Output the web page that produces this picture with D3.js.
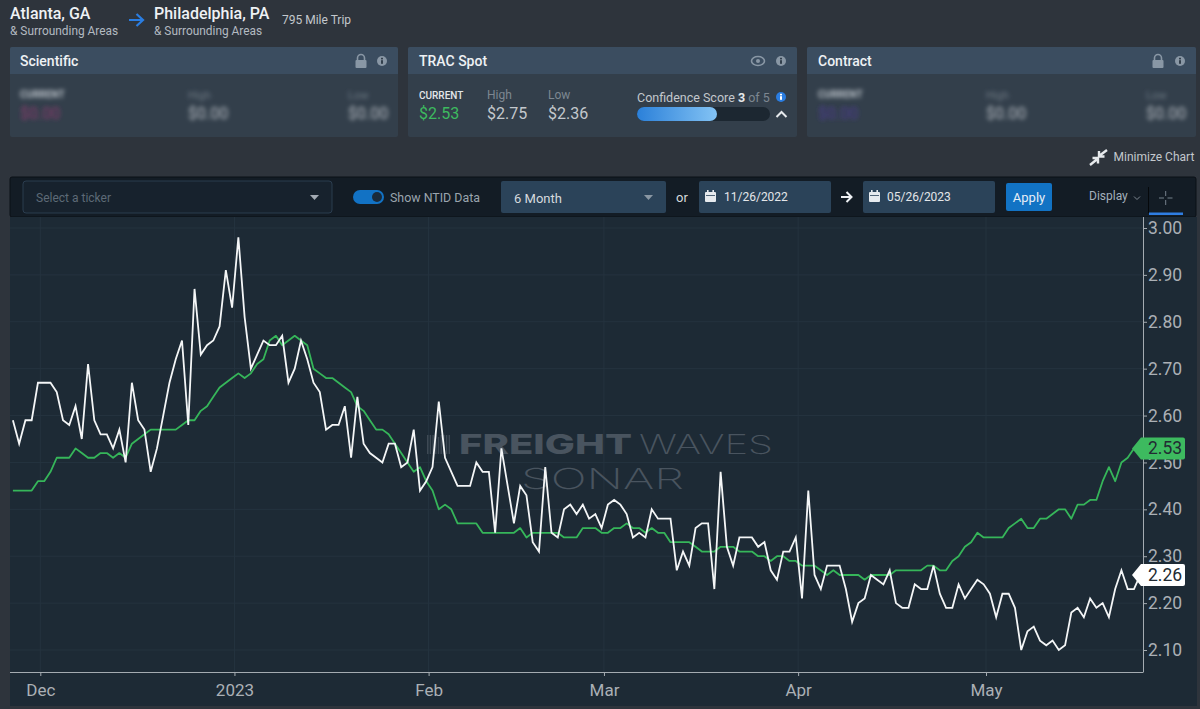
<!DOCTYPE html>
<html>
<head>
<meta charset="utf-8">
<script src="https://cdn.jsdelivr.net/npm/d3@7"></script>
<style>
  html, body { margin: 0; padding: 0; background: #2e343c; overflow: hidden; }
  svg { display: block; font-family: Roboto, sans-serif; }
  .y-axis text, .x-axis text { font-family: Roboto, sans-serif; }
</style>
</head>
<body>
<div id="root"></div>
<script>
// values, one per day
const firstDay = '2022-11-26T15:00:00Z';
const spotValues = [
  2.59,2.54,2.59,2.59,2.67,2.67,2.67,2.65,2.59,2.58,
  2.62,2.55,2.71,2.59,2.56,2.56,2.53,2.57,2.50,2.67,
  2.59,2.57,2.48,2.53,2.60,2.67,2.72,2.76,2.58,2.87,
  2.73,2.75,2.76,2.79,2.91,2.83,2.98,2.81,2.70,2.73,
  2.76,2.75,2.75,2.77,2.67,2.70,2.76,2.72,2.67,2.65,
  2.57,2.58,2.58,2.62,2.51,2.64,2.54,2.52,2.51,2.50,
  2.54,2.54,2.49,2.50,2.57,2.44,2.46,2.49,2.63,2.51,
  2.48,2.45,2.45,2.45,2.50,2.48,2.48,2.35,2.53,2.45,
  2.37,2.45,2.43,2.33,2.31,2.49,2.35,2.34,2.40,2.41,
  2.39,2.41,2.38,2.39,2.36,2.41,2.42,2.41,2.39,2.34,
  2.35,2.34,2.40,2.38,2.38,2.38,2.27,2.31,2.28,2.36,
  2.37,2.37,2.23,2.48,2.32,2.28,2.34,2.34,2.34,2.32,
  2.33,2.27,2.25,2.31,2.31,2.34,2.21,2.44,2.26,2.23,
  2.28,2.28,2.28,2.23,2.16,2.20,2.21,2.26,2.25,2.24,
  2.27,2.20,2.19,2.19,2.24,2.23,2.23,2.28,2.22,2.19,
  2.19,2.24,2.21,2.23,2.25,2.24,2.22,2.17,2.22,2.22,
  2.19,2.10,2.14,2.15,2.12,2.11,2.12,2.10,2.11,2.18,
  2.19,2.17,2.21,2.19,2.20,2.17,2.23,2.27,2.23,2.23,2.26
];
const tracValues = [
  2.44,2.44,2.44,2.44,2.46,2.46,2.48,2.51,2.51,2.51,
  2.53,2.52,2.51,2.51,2.52,2.52,2.51,2.52,2.51,2.54,
  2.55,2.56,2.57,2.57,2.57,2.57,2.57,2.58,2.59,2.59,
  2.61,2.62,2.64,2.66,2.67,2.68,2.69,2.68,2.69,2.71,
  2.72,2.76,2.77,2.75,2.76,2.77,2.76,2.75,2.70,2.69,
  2.68,2.68,2.67,2.66,2.65,2.62,2.61,2.59,2.57,2.57,
  2.56,2.54,2.52,2.50,2.48,2.49,2.46,2.44,2.40,2.41,
  2.40,2.37,2.37,2.37,2.37,2.35,2.35,2.35,2.35,2.35,
  2.35,2.36,2.34,2.35,2.35,2.35,2.35,2.35,2.34,2.34,
  2.34,2.36,2.36,2.36,2.35,2.35,2.36,2.36,2.37,2.36,
  2.36,2.35,2.36,2.35,2.35,2.33,2.33,2.33,2.33,2.32,
  2.31,2.31,2.31,2.32,2.32,2.32,2.31,2.31,2.31,2.30,
  2.30,2.29,2.30,2.30,2.29,2.29,2.28,2.28,2.28,2.27,
  2.26,2.27,2.26,2.26,2.26,2.26,2.25,2.26,2.26,2.26,
  2.26,2.27,2.27,2.27,2.27,2.27,2.28,2.28,2.27,2.27,
  2.29,2.30,2.32,2.33,2.35,2.34,2.34,2.34,2.34,2.36,
  2.37,2.38,2.36,2.36,2.38,2.38,2.39,2.40,2.40,2.38,
  2.41,2.41,2.42,2.42,2.46,2.49,2.46,2.50,2.51,2.53,2.53
];
const monthTicks = ['2022-12-01','2023-01-01','2023-02-01','2023-03-01','2023-04-01','2023-05-01'];
const monthLabels = ['Dec','2023','Feb','Mar','Apr','May'];
const priceTicks = [2.10,2.20,2.30,2.40,2.50,2.60,2.70,2.80,2.90,3.00];

const width = 1200;
const height = 709;
const axisRight = 1143;
const axisBottom = 672;
const chartLeft = 10;
const chartTop = 217;

const svg = d3.select('#root').append('svg')
  .attr('width', width)
  .attr('height', height)
  .attr('viewBox', [0, 0, width, height]);

const blur = svg.append('defs').append('filter').attr('id', 'blur')
  .attr('x', '-20%').attr('y', '-60%').attr('width', '140%').attr('height', '220%');
blur.append('feGaussianBlur').attr('stdDeviation', 2.2);

const grad = svg.select('defs').append('linearGradient').attr('id', 'score');
grad.append('stop').attr('offset', '0%').attr('stop-color', '#2b80d9');
grad.append('stop').attr('offset', '100%').attr('stop-color', '#83c3f4');

function label(g, x, y, str, size, color, weight) {
  return g.append('text')
    .attr('x', x).attr('y', y)
    .attr('dominant-baseline', 'central')
    .attr('font-size', size)
    .attr('font-weight', weight || 400)
    .attr('fill', color)
    .text(str);
}

function infoIcon(g, x, y, color) {
  g.append('circle').attr('cx', x).attr('cy', y).attr('r', 5).attr('fill', color);
  const ink = color === '#2a7de1' ? '#fff' : '#323f4c';
  g.append('rect').attr('x', x - 1).attr('y', y - 0.8).attr('width', 2).attr('height', 3.6).attr('fill', ink);
  g.append('rect').attr('x', x - 1).attr('y', y - 3.2).attr('width', 2).attr('height', 1.6).attr('fill', ink);
}

function lockIcon(g, x, y) {
  g.append('rect').attr('x', x - 5.5).attr('y', y - 1).attr('width', 11).attr('height', 8).attr('rx', 1).attr('fill', '#8997a5');
  g.append('path').attr('d', `M${x - 3.5},${y} v-3 a3.5,3.5 0 0 1 7,0 v3`)
    .attr('fill', 'none').attr('stroke', '#8997a5').attr('stroke-width', 1.6);
}

function card(x, w, title, textX) {
  const g = svg.append('g');
  g.append('rect').attr('x', x).attr('y', 47).attr('width', w).attr('height', 90).attr('rx', 2).attr('fill', '#333f4b');
  g.append('path').attr('d', `M${x},74 V49 a2,2 0 0 1 2,-2 H${x + w - 2} a2,2 0 0 1 2,2 V74 Z`).attr('fill', '#3b4d60');
  label(g, textX, 61, title, 14, '#eef1f4', 500);
  return g;
}

function blurredStats(g, x, xHigh, xLow, color) {
  const b = g.append('g').attr('filter', 'url(#blur)');
  label(b, x, 94, 'CURRENT', 10, '#b9c0c7', 700);
  label(b, x, 113, '$0.00', 16, color);
  label(b, xHigh, 95, 'High', 11, '#6d7883');
  label(b, xHigh, 113, '$0.00', 16, '#b4bac0');
  label(b, xLow, 95, 'Low', 11, '#6d7883');
  label(b, xLow, 113, '$0.00', 16, '#b4bac0');
}

function calendar(g, x, y) {
  g.append('rect').attr('x', x).attr('y', y + 2).attr('width', 11).attr('height', 10).attr('rx', 1).attr('fill', '#e6eaee');
  g.append('rect').attr('x', x + 1).attr('y', y + 5).attr('width', 9).attr('height', 0.8).attr('fill', '#2b4359');
  g.append('rect').attr('x', x + 2).attr('y', y).attr('width', 1.6).attr('height', 3).attr('fill', '#e6eaee');
  g.append('rect').attr('x', x + 7.4).attr('y', y).attr('width', 1.6).attr('height', 3).attr('fill', '#e6eaee');
}

// ---------------------------------------------------------------- header
const header = svg.append('g');
label(header, 10, 13, 'Atlanta, GA', 16, '#eef1f4', 500);
label(header, 10, 31, '& Surrounding Areas', 11.9, '#b3bac1');
header.append('path').attr('d', 'M129,20 H142 M136.5,14 L143,20 L136.5,26')
  .attr('fill', 'none').attr('stroke', '#2a7de1').attr('stroke-width', 2.2);
label(header, 154, 13, 'Philadelphia, PA', 16, '#eef1f4', 500);
label(header, 154, 31, '& Surrounding Areas', 11.9, '#b3bac1');
label(header, 282, 20, '795 Mile Trip', 12, '#c3c8cd');

const sci = card(10, 388, 'Scientific', 20);
lockIcon(sci, 361, 61);
infoIcon(sci, 382, 61, '#8997a5');
blurredStats(sci, 20, 188, 348, '#8b3a6e');

const trac = card(408, 389, 'TRAC Spot', 419);
trac.append('ellipse').attr('cx', 758).attr('cy', 61).attr('rx', 6.5).attr('ry', 4.5)
  .attr('fill', 'none').attr('stroke', '#8997a5').attr('stroke-width', 1.6);
trac.append('circle').attr('cx', 758).attr('cy', 61).attr('r', 2).attr('fill', '#8997a5');
infoIcon(trac, 781, 61, '#8997a5');
label(trac, 419, 95, 'CURRENT', 10, '#e3e6e9', 500);
label(trac, 419, 113, '$2.53', 16, '#3dba5f');
label(trac, 487, 95, 'High', 12, '#7d8791');
label(trac, 487, 113, '$2.75', 16, '#c3c8cd');
label(trac, 548, 95, 'Low', 12, '#7d8791');
label(trac, 548, 113, '$2.36', 16, '#c3c8cd');
const conf = label(trac, 637, 97, 'Confidence Score ', 12.5, '#c3c8cd');
conf.append('tspan').attr('font-weight', 700).attr('fill', '#e6e9ec').text('3');
conf.append('tspan').attr('fill', '#7d8791').text(' of 5');
infoIcon(trac, 781, 97, '#2a7de1');
trac.append('rect').attr('x', 637).attr('y', 107).attr('width', 133).attr('height', 14).attr('rx', 7).attr('fill', '#1c2731');
trac.append('rect').attr('x', 637).attr('y', 107).attr('width', 80).attr('height', 14).attr('rx', 7).attr('fill', 'url(#score)');
trac.append('path').attr('d', 'M776.5,117 L781.5,112 L786.5,117')
  .attr('fill', 'none').attr('stroke', '#e6e9ec').attr('stroke-width', 2);

const con = card(807, 389, 'Contract', 818);
lockIcon(con, 1158, 61);
infoIcon(con, 1180, 61, '#8997a5');
blurredStats(con, 818, 986, 1146, '#4b3a92');

const mini = svg.append('g');
mini.append('path').attr('d', 'M1107,150 L1099,156 M1099,151 V156.5 H1104.5 M1090,165 L1098,158.5 M1092.5,158 H1098 V163.5')
  .attr('fill', 'none').attr('stroke', '#e6e9ec').attr('stroke-width', 2.4);
label(mini, 1113.5, 157, 'Minimize Chart', 12, '#c3c8cd');

// ---------------------------------------------------------------- toolbar
const bar = svg.append('g');
bar.append('rect').attr('x', chartLeft).attr('y', 177).attr('width', 1186).attr('height', 40)
  .attr('rx', 2).attr('fill', '#131c25').attr('stroke', '#0b1016');
bar.append('rect').attr('x', 23).attr('y', 181).attr('width', 309).attr('height', 32).attr('rx', 3)
  .attr('fill', '#17222d').attr('stroke', '#2b3d4f');
label(bar, 36, 198, 'Select a ticker', 12, '#5d6a76');
bar.append('path').attr('d', 'M310,195 h9 l-4.5,5 Z').attr('fill', '#a3abb3');
bar.append('rect').attr('x', 353).attr('y', 190).attr('width', 31).attr('height', 14).attr('rx', 7).attr('fill', '#1272c4');
bar.append('circle').attr('cx', 377).attr('cy', 197).attr('r', 5).attr('fill', '#1a2a3a');
label(bar, 390, 197, 'Show NTID Data', 12.4, '#9aa4ae');
bar.append('rect').attr('x', 501).attr('y', 181).attr('width', 165).attr('height', 32).attr('rx', 2).attr('fill', '#2b4359');
label(bar, 514, 198, '6 Month', 13, '#d5dade');
bar.append('path').attr('d', 'M644,195 h9 l-4.5,5 Z').attr('fill', '#8a97a3');
label(bar, 676, 197, 'or', 13, '#d5dade');
bar.append('rect').attr('x', 699).attr('y', 181).attr('width', 132).attr('height', 32).attr('rx', 2).attr('fill', '#2b4359');
calendar(bar, 705, 190);
label(bar, 724, 197, '11/26/2022', 12, '#e3e6e9');
bar.append('path').attr('d', 'M841,197 H851 M846.5,192 L851.5,197 L846.5,202')
  .attr('fill', 'none').attr('stroke', '#eef1f4').attr('stroke-width', 2);
bar.append('rect').attr('x', 863).attr('y', 181).attr('width', 132).attr('height', 32).attr('rx', 2).attr('fill', '#2b4359');
calendar(bar, 869, 190);
label(bar, 887, 197, '05/26/2023', 12, '#e3e6e9');
bar.append('rect').attr('x', 1006).attr('y', 183).attr('width', 46).attr('height', 28).attr('rx', 2).attr('fill', '#1273c4');
label(bar, 1029, 197, 'Apply', 13, '#e6eef6').attr('text-anchor', 'middle');
label(bar, 1089, 196, 'Display', 12, '#a3b0bc');
bar.append('path').attr('d', 'M1134,196.5 L1137,199.5 L1140,196.5').attr('fill', 'none').attr('stroke', '#7d8791');
bar.append('line').attr('x1', 1148.5).attr('x2', 1148.5).attr('y1', 187).attr('y2', 213).attr('stroke', '#05080b');
bar.append('path').attr('d', 'M1159,198 H1164 M1167.5,198 H1172.5 M1165.7,191 V196 M1165.7,200 V205')
  .attr('stroke', '#75818c').attr('fill', 'none');
bar.append('rect').attr('x', 1149).attr('y', 212.5).attr('width', 34).attr('height', 2.5).attr('fill', '#2f7de1');

// ---------------------------------------------------------------- chart
svg.append('rect')
  .attr('x', chartLeft).attr('y', chartTop)
  .attr('width', 1187).attr('height', 489)
  .attr('fill', '#1d2a35');

const xScale = d3.scaleUtc()
  .domain([new Date('2022-12-01T00:00:00Z'), new Date('2023-05-01T00:00:00Z')])
  .range([40.3, 986]);
const yScale = d3.scaleLinear()
  .domain([2.10, 3.00])
  .range([650, 228]);

const tickDates = monthTicks.map((d) => new Date(d + 'T00:00:00Z'));
const start = new Date(firstDay);
const dayAt = (i) => d3.utcDay.offset(start, i);

// grid
svg.append('g').selectAll('line')
  .data(tickDates)
  .enter()
  .append('line')
  .attr('x1', (d) => xScale(d)).attr('x2', (d) => xScale(d))
  .attr('y1', chartTop).attr('y2', axisBottom)
  .attr('stroke', '#25333f');
svg.append('g').selectAll('line')
  .data(priceTicks)
  .enter()
  .append('line')
  .attr('x1', chartLeft).attr('x2', axisRight)
  .attr('y1', (d) => yScale(d)).attr('y2', (d) => yScale(d))
  .attr('stroke', '#25333f');

// watermark
const mark = svg.append('g').attr('fill', '#49545f');
mark.selectAll('rect')
  .data(d3.range(9))
  .enter()
  .append('rect')
  .attr('x', (d) => 427 + d * 2.7)
  .attr('y', (d) => (d === 4 ? 437 : 435))
  .attr('width', 1.4)
  .attr('height', (d) => (d === 4 ? 17 : 19))
  .attr('opacity', 0.75);
mark.append('text').attr('x', 459).attr('y', 454)
  .attr('font-family', 'Inter, Roboto, sans-serif').attr('font-size', 26.5).attr('font-weight', 800)
  .attr('textLength', 173).attr('lengthAdjust', 'spacingAndGlyphs').text('FREIGHT');
mark.append('text').attr('x', 639).attr('y', 454)
  .attr('font-family', 'Inter, Roboto, sans-serif').attr('font-size', 26.5).attr('font-weight', 200)
  .attr('textLength', 134).attr('lengthAdjust', 'spacingAndGlyphs').text('WAVES');
mark.append('text').attr('x', 521).attr('y', 489)
  .attr('font-family', 'Inter, Roboto, sans-serif').attr('font-size', 29).attr('font-weight', 200)
  .attr('textLength', 163).attr('lengthAdjust', 'spacingAndGlyphs').text('SONAR');

// lines
const line = d3.line()
  .x((d, i) => xScale(dayAt(i)))
  .y((d) => yScale(d));

svg.append('path')
  .datum(tracValues)
  .attr('fill', 'none')
  .attr('stroke', '#36b65a')
  .attr('stroke-width', 1.8)
  .attr('stroke-linejoin', 'round')
  .attr('d', line);
svg.append('path')
  .datum(spotValues)
  .attr('fill', 'none')
  .attr('stroke', '#f4f6f7')
  .attr('stroke-width', 1.8)
  .attr('stroke-linejoin', 'miter')
  .attr('d', line);

// axes
const xAxis = d3.axisBottom(xScale)
  .tickValues(tickDates)
  .tickFormat((d, i) => monthLabels[i])
  .tickSizeInner(4).tickSizeOuter(0).tickPadding(8);
const xAxisG = svg.append('g')
  .attr('class', 'x-axis')
  .attr('transform', `translate(0, ${axisBottom})`)
  .call(xAxis);
xAxisG.select('.domain').remove();
xAxisG.selectAll('line').attr('stroke', '#a4abb1');
xAxisG.selectAll('text').attr('fill', '#abb0b5').attr('font-size', 17);
svg.append('line')
  .attr('x1', chartLeft).attr('x2', axisRight)
  .attr('y1', axisBottom + 0.5).attr('y2', axisBottom + 0.5)
  .attr('stroke', '#a4abb1');

const yAxis = d3.axisRight(yScale)
  .tickValues(priceTicks)
  .tickFormat(d3.format('.2f'))
  .tickSizeInner(4).tickSizeOuter(0).tickPadding(1);
const yAxisG = svg.append('g')
  .attr('class', 'y-axis')
  .attr('transform', `translate(${axisRight}, 0)`)
  .call(yAxis);
yAxisG.select('.domain').remove();
yAxisG.selectAll('line').attr('stroke', '#a4abb1');
yAxisG.selectAll('text').attr('fill', '#abb0b5').attr('font-size', 17.5);
svg.append('line')
  .attr('x1', axisRight + 0.5).attr('x2', axisRight + 0.5)
  .attr('y1', chartTop).attr('y2', axisBottom + 0.5)
  .attr('stroke', '#a4abb1');

// end-of-line value tags
function endTag(value, color) {
  const cy = yScale(value);
  svg.append('path')
    .attr('d', `M1132,${cy} L1141,${cy - 11} H1183 a2,2 0 0 1 2,2 V${cy + 9} a2,2 0 0 1 -2,2 H1141 Z`)
    .attr('fill', color);
  svg.append('text')
    .attr('x', 1148).attr('y', cy)
    .attr('dominant-baseline', 'central')
    .attr('font-size', 17.5)
    .attr('fill', '#222b33')
    .text(d3.format('.2f')(value));
}
endTag(tracValues[tracValues.length - 1], '#3dba5f');
endTag(spotValues[spotValues.length - 1], '#ffffff');
</script>
</body>
</html>
